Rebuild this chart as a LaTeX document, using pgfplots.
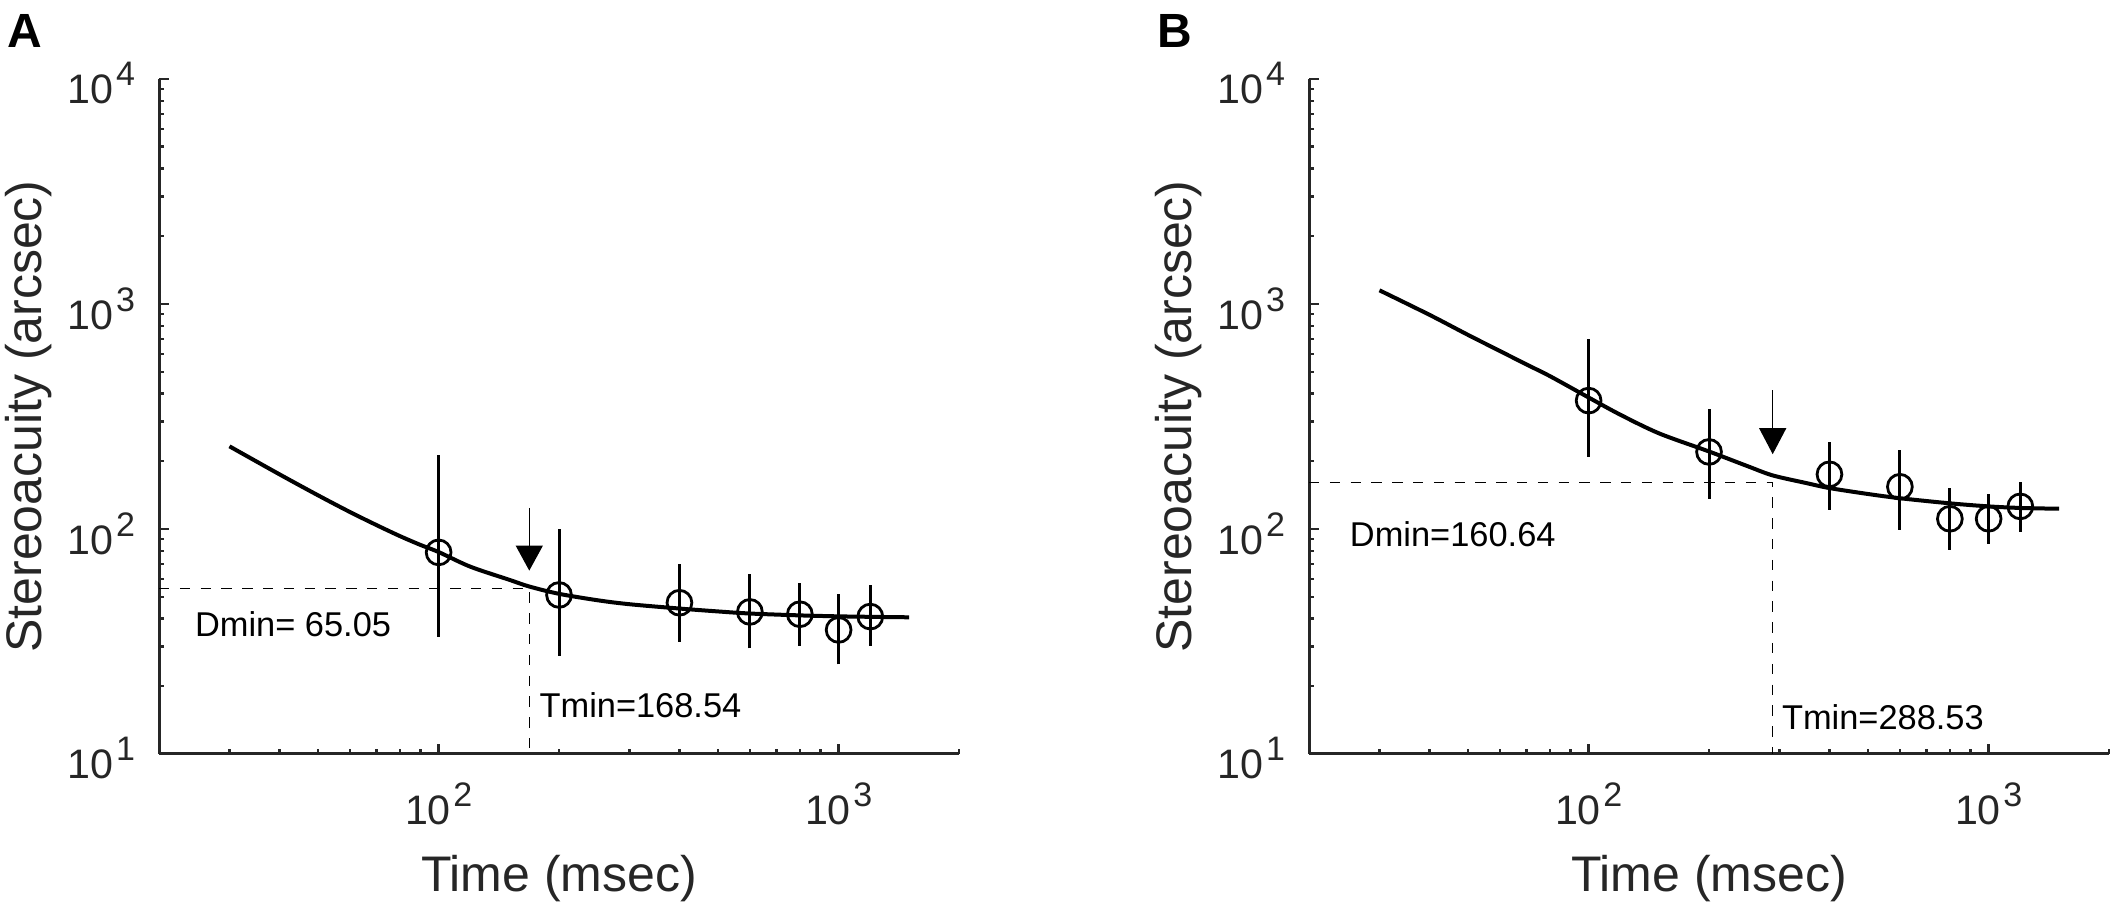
\documentclass[border=0pt]{standalone}
\usepackage{fontspec}
\setmainfont{Liberation Sans}
\usepackage{pgfplots}
\pgfplotsset{compat=1.18}
\usetikzlibrary{arrows.meta}
\definecolor{axgray}{rgb}{0.15,0.15,0.15}
\newcommand{\ebar}[3]{\addplot[black, line width=0.75pt, forget plot] coordinates {(#1,#2) (#1,#3)};}
\newcommand{\tlab}[1]{10\hspace{0.6pt}\raisebox{4.5pt}{\fontsize{8.5}{8.5}\selectfont #1}}
\begin{document}
\begin{tikzpicture}
\path[use as bounding box] (0,0) rectangle (529.5pt,226.75pt);

% ---------------- Panel A ----------------
\begin{axis}[
    at={(39.75pt,38.25pt)}, anchor=south west,
    xmode=log, ymode=log,
    xmin=20, xmax=2000, ymin=10, ymax=10000,
    scale only axis, width=200pt, height=168.75pt,
    axis x line*=bottom, axis y line*=left,
    axis line style={line width=0.75pt, color=axgray},
    tick align=inside,
    major tick length=2.4pt, minor tick length=1.3pt,
    tick style={line width=0.6pt, color=axgray},
    xtick={100,1000}, xticklabels={\tlab{2},\tlab{3}},
    minor xtick={30,40,50,60,70,80,90,200,300,400,500,600,700,800,900,2000},
    ytick={10,100,1000,10000}, yticklabels={\tlab{1},\tlab{2},\tlab{3},\tlab{4}},
    minor ytick={20,30,40,50,60,70,80,90,200,300,400,500,600,700,800,900,2000,3000,4000,5000,6000,7000,8000,9000},
    tick label style={font=\fontsize{10.3}{11}\selectfont, color=axgray, inner sep=0pt},
    xticklabel style={anchor=base, inner sep=0pt, yshift=-17.75pt},
    yticklabel style={anchor=east, inner sep=0pt, xshift=-5.8pt, yshift=-1.1pt},
    xlabel={Time (msec)}, ylabel={Stereoacuity (arcsec)},
    every axis x label/.style={at={(axis description cs:0.5,0)}, yshift=-34.5pt, anchor=base, font=\fontsize{12.5}{14}\selectfont, color=axgray},
    every axis y label/.style={at={(axis description cs:0,0.5)}, xshift=-32.6pt, rotate=90, anchor=center, font=\fontsize{12.5}{14}\selectfont, color=axgray},
    clip=false,
]
\addplot[black, line width=0.35pt, dash pattern=on 2.6pt off 2.6pt] coordinates {(20,54.5) (168.54,54.5) (168.54,10)};
\addplot[black, line width=1pt, smooth] coordinates {
(30,233) (40,175) (50,141) (60,119) (70,104) (80,93) (90,85) (100,79)
(120,68) (150,59.5) (168.54,55.5) (200,51.5) (250,48.2) (300,46.3)
(400,44.3) (500,43) (600,42.1) (800,41.3) (1000,40.9) (1200,40.7) (1500,40.5)};
\ebar{100}{33.2}{213}
\ebar{200}{27.3}{99.8}
\ebar{400}{31.5}{69.7}
\ebar{600}{29.5}{63.1}
\ebar{800}{30.3}{57.7}
\ebar{1000}{25}{51.4}
\ebar{1200}{30.2}{56.2}
\addplot[only marks, mark=o, mark size=3.1pt, mark options={black, line width=0.7pt}] coordinates {(100,78.7) (200,50.9) (400,47) (600,42.8) (800,41.8) (1000,35.6) (1200,40.8)};
\draw[black, line width=0.3pt, -{Triangle[width=6.75pt,length=6.25pt]}] (axis cs:168.54,124) -- (axis cs:168.54,65.3);
\node[anchor=base west, font=\fontsize{8.6}{9}\selectfont, inner sep=0pt] at (axis cs:24.5,33.2) {Dmin= 65.05};
\node[anchor=base west, font=\fontsize{8.6}{9}\selectfont, inner sep=0pt] at (axis cs:178,14.6) {Tmin=168.54};
\end{axis}

% ---------------- Panel B ----------------
\begin{axis}[
    at={(327.25pt,38.25pt)}, anchor=south west,
    xmode=log, ymode=log,
    xmin=20, xmax=2000, ymin=10, ymax=10000,
    scale only axis, width=200pt, height=168.75pt,
    axis x line*=bottom, axis y line*=left,
    axis line style={line width=0.75pt, color=axgray},
    tick align=inside,
    major tick length=2.4pt, minor tick length=1.3pt,
    tick style={line width=0.6pt, color=axgray},
    xtick={100,1000}, xticklabels={\tlab{2},\tlab{3}},
    minor xtick={30,40,50,60,70,80,90,200,300,400,500,600,700,800,900,2000},
    ytick={10,100,1000,10000}, yticklabels={\tlab{1},\tlab{2},\tlab{3},\tlab{4}},
    minor ytick={20,30,40,50,60,70,80,90,200,300,400,500,600,700,800,900,2000,3000,4000,5000,6000,7000,8000,9000},
    tick label style={font=\fontsize{10.3}{11}\selectfont, color=axgray, inner sep=0pt},
    xticklabel style={anchor=base, inner sep=0pt, yshift=-17.75pt},
    yticklabel style={anchor=east, inner sep=0pt, xshift=-5.8pt, yshift=-1.1pt},
    xlabel={Time (msec)}, ylabel={Stereoacuity (arcsec)},
    every axis x label/.style={at={(axis description cs:0.5,0)}, yshift=-34.5pt, anchor=base, font=\fontsize{12.5}{14}\selectfont, color=axgray},
    every axis y label/.style={at={(axis description cs:0,0.5)}, xshift=-32.6pt, rotate=90, anchor=center, font=\fontsize{12.5}{14}\selectfont, color=axgray},
    clip=false,
]
\addplot[black, line width=0.35pt, dash pattern=on 2.6pt off 2.6pt] coordinates {(20,160.64) (288.53,160.64) (288.53,10)};
\addplot[black, line width=1pt, smooth] coordinates {
(30,1150) (40,895) (50,728) (60,618) (70,538) (80,478) (100,384) (120,322)
(150,266) (200,221) (250,190) (288.53,173) (350,160) (400,152) (500,143)
(600,137) (800,130) (1000,126) (1200,124) (1500,123)};
\ebar{100}{209}{702}
\ebar{200}{136}{341}
\ebar{400}{122}{243}
\ebar{600}{99}{224}
\ebar{800}{81}{152}
\ebar{1000}{86}{143}
\ebar{1200}{97}{162}
\addplot[only marks, mark=o, mark size=3.1pt, mark options={black, line width=0.7pt}] coordinates {(100,372) (200,220) (400,175) (600,154) (800,111) (1000,111) (1200,126)};
\draw[black, line width=0.3pt, -{Triangle[width=6.75pt,length=6.5pt]}] (axis cs:288.53,413) -- (axis cs:288.53,215);
\node[anchor=base west, font=\fontsize{8.6}{9}\selectfont, inner sep=0pt] at (axis cs:25.2,84) {Dmin=160.64};
\node[anchor=base west, font=\fontsize{8.6}{9}\selectfont, inner sep=0pt] at (axis cs:303,12.9) {Tmin=288.53};
\end{axis}

\node[anchor=north west, inner sep=0pt, font=\bfseries\fontsize{12}{12}\selectfont] at (1.75pt,223.25pt) {A};
\node[anchor=north west, inner sep=0pt, font=\bfseries\fontsize{12}{12}\selectfont] at (289.25pt,223.25pt) {B};
\end{tikzpicture}
\end{document}
